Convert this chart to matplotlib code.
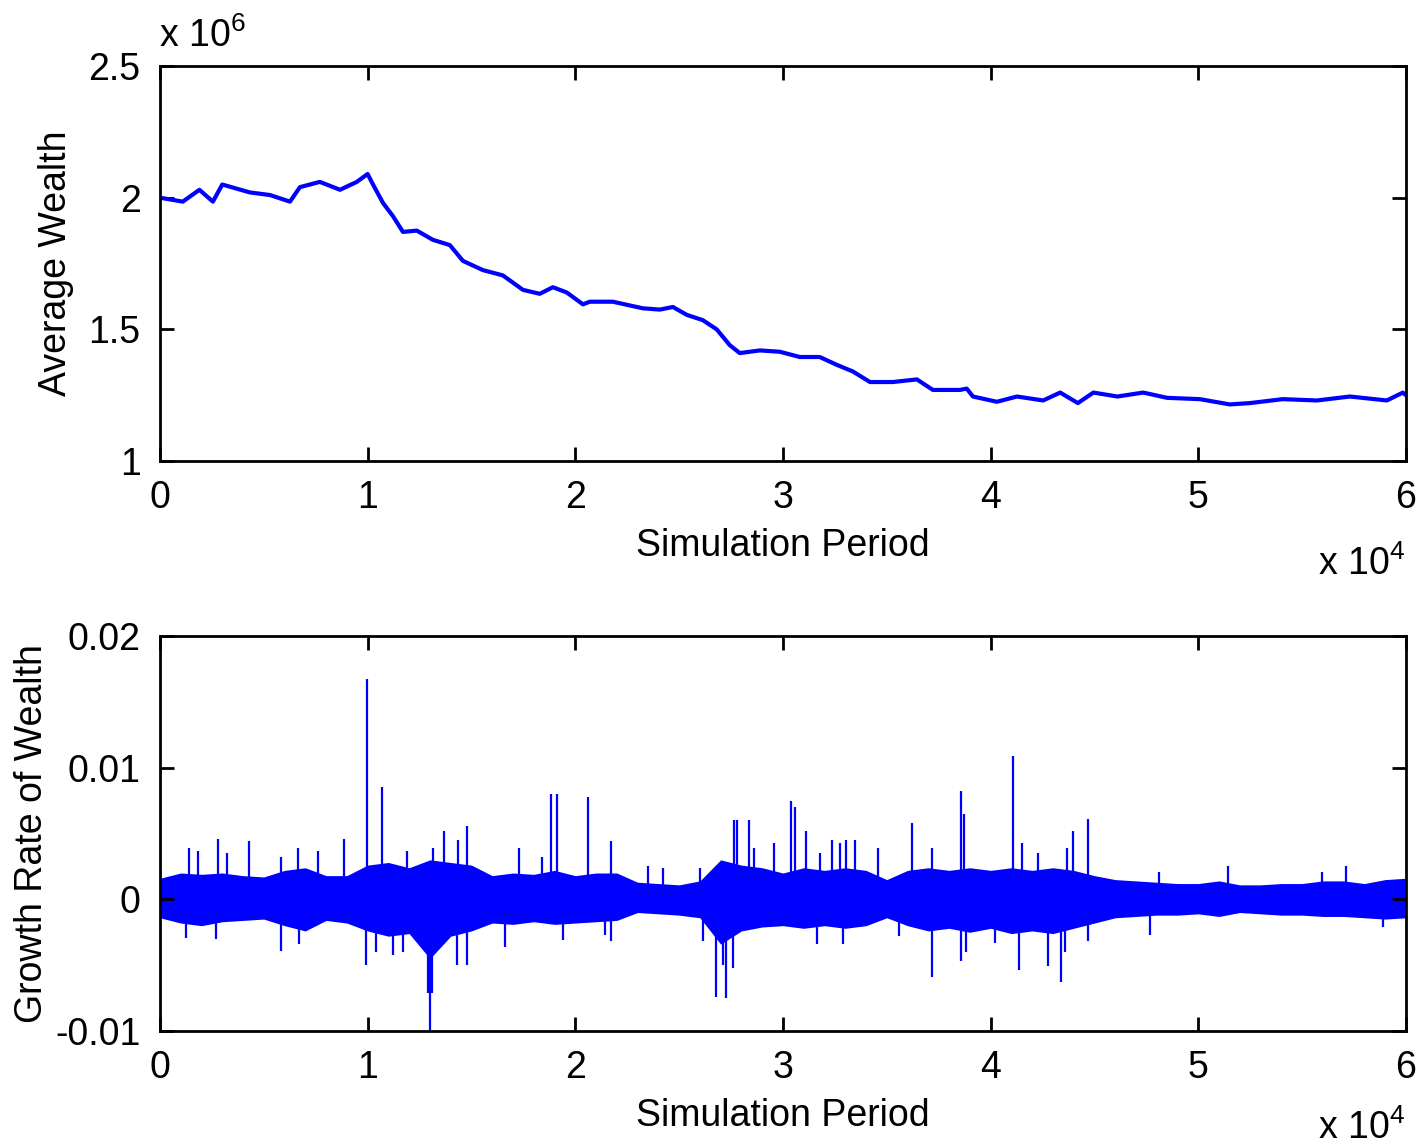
"""plot.py - average wealth and its growth rate over the simulation"""
import matplotlib
matplotlib.use("Agg")
import matplotlib.pyplot as plt
from matplotlib.ticker import FuncFormatter

plt.rcParams["font.family"] = ["Liberation Sans", "DejaVu Sans"]
plt.rcParams["mathtext.fontset"] = "custom"
plt.rcParams["mathtext.rm"] = "Liberation Sans"

# average wealth (period, wealth)
wealth_t = [0, 1100, 1900, 2550, 3000, 4330, 5300, 6260, 6740, 7700, 8670, 9480,
            10000, 10260, 10740, 11220, 11700, 12370, 13140, 13960, 14590, 15550,
            16510, 17480, 18290, 18920, 19590, 20370, 20700, 21810, 23250, 24070,
            24700, 25370, 26140, 26810, 27440, 27920, 28890, 29850, 30810, 31770,
            32600, 33370, 34190, 35290, 36450, 37220, 38520, 38850, 39150, 40300,
            41270, 42530, 43350, 44200, 44950, 46100, 47350, 48500, 50070, 51520,
            52480, 54070, 55710, 57300, 59080, 59850, 60000]
wealth = [2.00e6, 1.985e6, 2.03e6, 1.985e6, 2.05e6, 2.02e6, 2.01e6, 1.985e6, 2.04e6,
          2.06e6, 2.03e6, 2.06e6, 2.09e6, 2.05e6, 1.98e6, 1.93e6, 1.87e6, 1.875e6,
          1.84e6, 1.82e6, 1.76e6, 1.725e6, 1.705e6, 1.65e6, 1.635e6, 1.66e6, 1.64e6,
          1.595e6, 1.605e6, 1.605e6, 1.58e6, 1.575e6, 1.585e6, 1.555e6, 1.535e6,
          1.50e6, 1.44e6, 1.41e6, 1.42e6, 1.415e6, 1.395e6, 1.395e6, 1.365e6, 1.34e6,
          1.30e6, 1.30e6, 1.31e6, 1.27e6, 1.27e6, 1.275e6, 1.245e6, 1.225e6, 1.245e6,
          1.23e6, 1.26e6, 1.22e6, 1.26e6, 1.245e6, 1.26e6, 1.24e6, 1.235e6, 1.215e6,
          1.22e6, 1.235e6, 1.23e6, 1.245e6, 1.23e6, 1.26e6, 1.25e6]

# growth rate: dense band envelope every 1000 periods
band_t = list(range(0, 60001, 1000))
band_hi = [0.0016, 0.0020, 0.0019, 0.0020, 0.0018, 0.0017, 0.0022, 0.0024, 0.0018, 0.0018,
           0.0026, 0.0028, 0.0024, 0.0030, 0.0028, 0.0026, 0.0018, 0.0020, 0.0019, 0.0022,
           0.0018, 0.0020, 0.0020, 0.0013, 0.0012, 0.0011, 0.0014, 0.0030, 0.0026, 0.0024,
           0.0020, 0.0024, 0.0022, 0.0024, 0.0022, 0.0015, 0.0022, 0.0024, 0.0022, 0.0024,
           0.0022, 0.0024, 0.0022, 0.0024, 0.0022, 0.0018, 0.0015, 0.0014, 0.0013, 0.0012,
           0.0012, 0.0014, 0.0011, 0.0011, 0.0012, 0.0012, 0.0014, 0.0014, 0.0012, 0.0015,
           0.0016]
band_lo = [-0.0014, -0.0018, -0.0020, -0.0017, -0.0016, -0.0015, -0.0020, -0.0024, -0.0016,
           -0.0018, -0.0024, -0.0028, -0.0026, -0.0045, -0.0028, -0.0024, -0.0018, -0.0019,
           -0.0017, -0.0019, -0.0018, -0.0017, -0.0016, -0.0010, -0.0011, -0.0012, -0.0014,
           -0.0034, -0.0024, -0.0021, -0.0020, -0.0022, -0.0020, -0.0022, -0.0020, -0.0014,
           -0.0020, -0.0024, -0.0022, -0.0025, -0.0022, -0.0026, -0.0024, -0.0026, -0.0022,
           -0.0018, -0.0014, -0.0013, -0.0012, -0.0012, -0.0011, -0.0013, -0.0010, -0.0011,
           -0.0012, -0.0012, -0.0013, -0.0013, -0.0014, -0.0015, -0.0014]

# growth rate: isolated spikes (period, value)
spike_t = [1410, 1840, 2780, 3210, 4300, 5810, 6630, 7590, 8860, 9980, 10670, 11880,
           13140, 13670, 14360, 14800, 17290, 18380, 18810, 19100, 20620, 21700, 23510,
           24200, 26000, 27640, 27810, 28360, 28610, 29580, 30410, 30570, 31130, 31770,
           32340, 32740, 33060, 33460, 34560, 36220, 37180, 38570, 38730, 41080, 41490,
           42290, 43660, 43980, 44670, 48120, 51440, 55980, 57100,
           1250, 2700, 5810, 6700, 9900, 10400, 11200, 11700, 12900, 13000, 13100, 14300,
           14800, 16610, 19430, 21420, 21700, 26150, 26800, 27120, 27240, 27590, 31620,
           32910, 35600, 37180, 38570, 38800, 40200, 41360, 42740, 43410, 43600, 44670,
           47670, 58900]
spike_v = [0.0039, 0.0037, 0.0046, 0.0035, 0.0044, 0.0032, 0.0039, 0.0037, 0.0046, 0.0167,
           0.0085, 0.0037, 0.0039, 0.0052, 0.0045, 0.0056, 0.0039, 0.0032, 0.0080, 0.0080,
           0.0078, 0.0044, 0.0025, 0.0024, 0.0024, 0.0060, 0.0060, 0.0060, 0.0039, 0.0043,
           0.0075, 0.0070, 0.0052, 0.0035, 0.0045, 0.0043, 0.0045, 0.0045, 0.0039, 0.0058,
           0.0039, 0.0082, 0.0065, 0.0109, 0.0043, 0.0035, 0.0039, 0.0052, 0.0061, 0.0021,
           0.0025, 0.0021, 0.0025,
           -0.0029, -0.0030, -0.0039, -0.0034, -0.0050, -0.0040, -0.0042, -0.0040, -0.0071,
           -0.0100, -0.0071, -0.0050, -0.0050, -0.0036, -0.0031, -0.0027, -0.0032, -0.0032,
           -0.0074, -0.0050, -0.0075, -0.0052, -0.0034, -0.0034, -0.0028, -0.0059, -0.0047,
           -0.0040, -0.0033, -0.0054, -0.0051, -0.0063, -0.0040, -0.0032, -0.0027, -0.0021]

BLUE = "#0000ff"
FS = 27


def style_axes(ax):
    for s in ax.spines.values():
        s.set_linewidth(2.0)
    ax.tick_params(direction="in", length=10, width=2.0, top=True, right=True,
                   labelsize=FS, pad=14)
    ax.set_xlim(0, 60000)
    ax.set_xticks(range(0, 60001, 10000))
    ax.xaxis.set_major_formatter(FuncFormatter(lambda v, p: f"{v / 1e4:g}"))
    ax.set_xlabel("Simulation Period", fontsize=FS, labelpad=8)


fig = plt.figure(figsize=(14.18, 11.48), dpi=100)
ax1 = fig.add_axes([0.1128, 0.5984, 0.8787, 0.3441])
ax2 = fig.add_axes([0.1128, 0.1019, 0.8787, 0.3441])

ax1.plot(wealth_t, wealth, color=BLUE, lw=3)
style_axes(ax1)
ax1.set_ylim(1e6, 2.5e6)
ax1.set_yticks([1e6, 1.5e6, 2e6, 2.5e6])
ax1.yaxis.set_major_formatter(FuncFormatter(lambda v, p: f"{v / 1e6:g}"))
ax1.set_ylabel("Average Wealth", fontsize=FS, labelpad=10)
fig.text(159 / 1418, 1 - 47 / 1148, r"x 10$^{6}$", fontsize=FS, ha="left", va="baseline")
fig.text(1318 / 1418, 1 - 575 / 1148, r"x 10$^{4}$", fontsize=FS, ha="left", va="baseline")

ax2.fill_between(band_t, band_lo, band_hi, color=BLUE, lw=0)
ax2.vlines(spike_t, 0, spike_v, color=BLUE, lw=1.6)
style_axes(ax2)
ax2.set_ylim(-0.01, 0.02)
ax2.set_yticks([-0.01, 0, 0.01, 0.02])
ax2.yaxis.set_major_formatter(FuncFormatter(lambda v, p: "0" if v == 0 else f"{v:.2f}"))
ax2.set_ylabel("Growth Rate of Wealth", fontsize=FS, labelpad=4)
fig.text(1318 / 1418, 1 - 1139 / 1148, r"x 10$^{4}$", fontsize=FS, ha="left", va="baseline")

fig.savefig("out.png", dpi=100)
